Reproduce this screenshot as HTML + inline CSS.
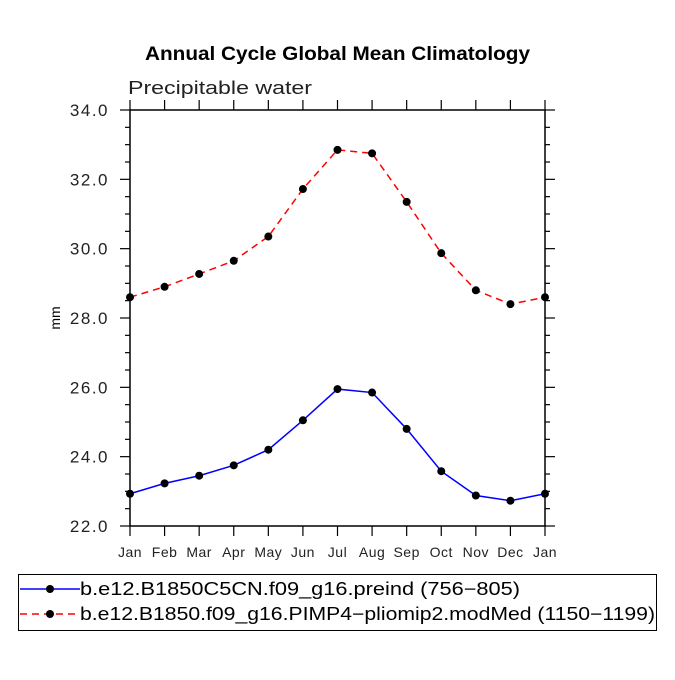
<!DOCTYPE html>
<html><head><meta charset="utf-8"><style>
body{margin:0;background:#fff}
svg text{font-family:"Liberation Sans",sans-serif}
</style></head><body>
<svg id="chart" width="675" height="675" viewBox="0 0 675 675">
<text x="145" y="60" font-size="19" font-weight="bold" textLength="385" lengthAdjust="spacingAndGlyphs">Annual Cycle Global Mean Climatology</text>
<text x="128" y="94" font-size="18" fill="#222" textLength="184" lengthAdjust="spacingAndGlyphs">Precipitable water</text>
<text transform="translate(60,318) rotate(-90)" text-anchor="middle" font-size="14">mm</text>
<g id="axes"></g>
<g id="series"></g>
<g>
<rect x="18.5" y="574.5" width="638" height="56" fill="none" stroke="#000"/>
<g>
<line x1="20" y1="589" x2="80" y2="589" stroke="#00f" stroke-width="1.5"/>
<circle cx="50" cy="589" r="4" fill="#000"/>
<text x="80" y="595" font-size="18" textLength="440" lengthAdjust="spacingAndGlyphs">b.e12.B1850C5CN.f09_g16.preind (756−805)</text>
</g>
<g>
<line x1="20" y1="614" x2="80" y2="614" stroke="#f00" stroke-width="1.5" stroke-dasharray="7,5"/>
<circle cx="50" cy="614" r="4" fill="#000"/>
<text x="80" y="620" font-size="18" textLength="575" lengthAdjust="spacingAndGlyphs">b.e12.B1850.f09_g16.PIMP4−pliomip2.modMed (1150−1199)</text>
</g>
</g>
</svg>
<script>
const months = ["Jan","Feb","Mar","Apr","May","Jun","Jul","Aug","Sep","Oct","Nov","Dec","Jan"];
const preind = [22.93,23.23,23.45,23.75,24.2,25.05,25.95,25.85,24.8,23.58,22.88,22.73,22.93];
const pliomip = [28.6,28.9,29.27,29.65,30.35,31.72,32.85,32.75,31.35,29.87,28.8,28.4,28.6];
const yTicks = [22,24,26,28,30,32,34];
const yTickLabels = ["22.0","24.0","26.0","28.0","30.0","32.0","34.0"];
const NS="http://www.w3.org/2000/svg";
const X0=130,X1=545,Y0=526,Y1=110,YMIN=22,YMAX=34;
const xs=i=>X0+i*(X1-X0)/(months.length-1);
const ys=v=>Y0-(v-YMIN)*(Y0-Y1)/(YMAX-YMIN);
function mk(tag,at,parent){const e=document.createElementNS(NS,tag);for(const k in at)e.setAttribute(k,at[k]);parent.appendChild(e);return e;}
const ax=document.getElementById('axes');
const frame=mk('rect',{x:X0,y:Y1,width:X1-X0,height:Y0-Y1,fill:'none',stroke:'#000','stroke-width':1.5},ax);


months.forEach((m,i)=>{
  const x=xs(i);
  mk('line',{x1:x,y1:Y0,x2:x,y2:Y0+10,stroke:'#000','stroke-width':1.2},ax);
  mk('line',{x1:x,y1:Y1,x2:x,y2:Y1-10,stroke:'#000','stroke-width':1.2},ax);
  const t=mk('text',{x:x,y:Y0+31,'text-anchor':'middle','font-size':14,fill:'#222','letter-spacing':0.5},ax);
  t.textContent=m;
  
  
});
for(let v=YMIN;v<=YMAX+0.001;v+=0.5){
  const y=ys(v);const major=yTicks.includes(v);const L=major?10:5;
  mk('line',{x1:X0-L,y1:y,x2:X0,y2:y,stroke:'#000','stroke-width':1.2},ax);
  mk('line',{x1:X1,y1:y,x2:X1+L,y2:y,stroke:'#000','stroke-width':1.2},ax);
}
yTicks.forEach((v,i)=>{
  const t=mk('text',{x:X0-21,y:ys(v)+6,'text-anchor':'end','font-size':17,fill:'#222','letter-spacing':1.5},ax);
  t.textContent=yTickLabels[i];
  
  
});
const sg=document.getElementById('series');
function series(vals,color,dash,name){
  const g=mk('g',{},sg);
  
  
  const pts=vals.map((v,i)=>xs(i)+','+ys(v)).join(' ');
  const at={points:pts,fill:'none',stroke:color,'stroke-width':1.5};
  if(dash)at['stroke-dasharray']=dash;
  mk('polyline',at,g);
  vals.forEach((v,i)=>{
    const c=mk('circle',{cx:xs(i),cy:ys(v),r:4,fill:'#000'},g);
    
    
  });
}
series(preind,'#00f',null,'series-preind');
series(pliomip,'#f00','7,5','series-pliomip2');
</script>
</body></html>
